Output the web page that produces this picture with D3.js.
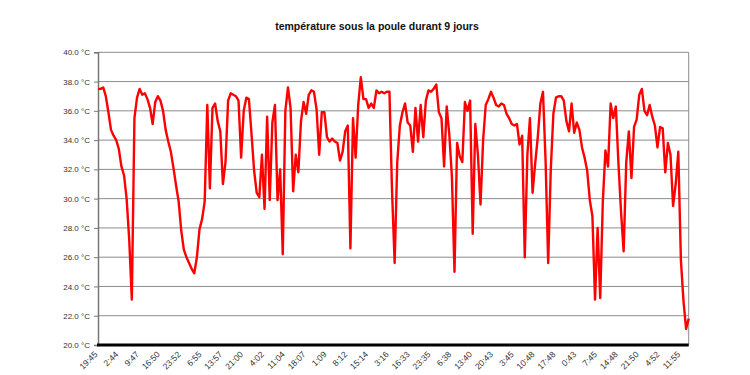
<!DOCTYPE html>
<html>
<head>
  <meta charset="utf-8">
  <title>température sous la poule</title>
  <style>
    body { margin: 0; background: #fff; }
    text { font-family: "Liberation Sans", Arial, sans-serif; }
  </style>
</head>
<body>
  <svg width="750" height="375"></svg>

  <script src="https://cdn.jsdelivr.net/npm/d3@7/dist/d3.min.js"></script>
  <script type="text/javascript">
    // one reading every few minutes, 9 days
    var temps = [
      37.5, 37.5, 37.6, 37.0, 35.9, 34.7, 34.3, 34.0, 33.4, 32.2,
      31.6, 30.0, 27.2, 23.1, 35.5, 36.9, 37.5, 37.1, 37.2, 36.8,
      36.2, 35.1, 36.6, 37.0, 36.7, 36.0, 34.7, 33.9, 33.2, 32.1,
      30.9, 29.8, 27.8, 26.5, 26.0, 25.6, 25.2, 24.9, 26.0, 27.9,
      28.6, 29.8, 36.4, 30.7, 36.2, 36.5, 35.3, 34.6, 31.0, 32.5,
      36.7, 37.2, 37.1, 37.0, 36.7, 32.8, 36.0, 36.9, 36.8, 34.4,
      31.9, 30.4, 30.1, 33.0, 29.3, 35.6, 29.9, 35.2, 36.4, 29.9,
      32.0, 26.2, 36.0, 37.6, 36.2, 30.5, 33.0, 31.8, 35.3, 36.6,
      35.8, 37.1, 37.4, 37.3, 36.1, 33.0, 35.9, 35.9, 34.2, 33.9,
      34.1, 33.9, 33.8, 32.6, 33.2, 34.6, 35.0, 26.6, 35.5, 32.8,
      36.4, 38.3, 36.8, 36.8, 36.2, 36.5, 36.2, 37.4, 37.2, 37.3,
      37.2, 37.3, 37.3, 30.5, 25.6, 32.5, 35.0, 35.9, 36.5, 35.2,
      35.0, 33.2, 36.2, 33.9, 36.4, 34.2, 36.7, 37.4, 37.3, 37.5,
      37.8, 35.9, 35.5, 32.2, 36.3, 34.4, 31.5, 25.0, 33.8, 32.9,
      32.5, 36.6, 36.0, 36.7, 27.6, 35.1, 33.0, 29.6, 34.0, 36.4,
      36.8, 37.3, 36.9, 36.4, 36.3, 36.5, 36.4, 35.8, 35.5, 35.1,
      35.0, 35.1, 33.7, 34.3, 26.0, 33.0, 35.5, 30.4, 32.4, 34.2,
      36.5, 37.3, 32.6, 25.6, 32.0, 35.8, 36.9, 37.0, 37.0, 36.7,
      35.3, 34.6, 36.5, 34.5, 35.2, 34.7, 33.5, 32.8, 31.9, 29.9,
      28.8, 23.1, 28.0, 23.2, 29.8, 33.3, 32.2, 36.5, 35.5, 36.3,
      32.4, 29.1, 26.4, 32.5, 34.6, 31.4, 34.9, 35.4, 37.1, 37.5,
      36.0, 35.7, 36.4, 35.6, 35.0, 33.5, 34.9, 34.8, 31.8, 33.8,
      33.0, 29.5, 31.0, 33.2, 25.8, 23.0, 21.1, 21.8
    ]

    var timeLabels = [
      "19:45", "2:44", "9:47", "16:50", "23:52", "6:55", "13:57", "21:00",
      "4:02", "11:04", "18:07", "1:09", "8:12", "15:14", "3:16", "16:33",
      "23:35", "6:38", "13:40", "20:43", "3:45", "10:48", "17:48", "0:43",
      "7:45", "14:48", "21:50", "4:52", "11:55"
    ]
    var labelStep = 8   // a label every 8 readings

    var yTicks = d3.range(20, 40.01, 2)

    var svg = d3.select("svg"),
      plotL = 98, plotR = 688.7, plotT = 52.3, plotB = 345

    var x = d3.scaleLinear().domain([0, temps.length - 1]).range([plotL, plotR])
    var y = d3.scaleLinear().domain([20, 40]).range([plotB, plotT])

    svg.append("text")
      .attr("x", 377)
      .attr("y", 30)
      .attr("text-anchor", "middle")
      .attr("font-size", "10.5px")
      .attr("font-weight", "bold")
      .attr("fill", "#111")
      .text("température sous la poule durant 9 jours")

    // grid
    svg.selectAll(".grid")
      .data(yTicks).enter()
      .append("line")
      .attr("class", "grid")
      .attr("x1", plotL).attr("x2", plotR)
      .attr("y1", d => y(d)).attr("y2", d => y(d))
      .attr("stroke", "#8c8c8c")
      .attr("stroke-width", 1)

    // right border
    svg.append("line")
      .attr("x1", plotR).attr("x2", plotR)
      .attr("y1", plotT).attr("y2", plotB)
      .attr("stroke", "#8c8c8c")

    // y axis
    var yAxis = svg.append("g")
      .attr("transform", "translate(" + plotL + ",0)")
      .call(d3.axisLeft(y).tickValues(yTicks).tickSize(4).tickPadding(4)
        .tickFormat(d => d.toFixed(1) + " °C"))
    yAxis.select(".domain").attr("stroke", "#777").attr("stroke-width", 1.5)
    yAxis.selectAll(".tick line").attr("stroke", "#777")
    yAxis.selectAll(".tick text")
      .attr("font-family", "Liberation Sans, Arial, sans-serif")
      .attr("font-size", "8px")
      .attr("fill", "#333")

    // x labels
    svg.selectAll(".xlab")
      .data(timeLabels).enter()
      .append("text")
      .attr("class", "xlab")
      .attr("text-anchor", "end")
      .attr("font-size", "8.5px")
      .attr("fill", "#333")
      .attr("transform", (d, i) => "translate(" + x(i * labelStep) + "," + (plotB + 10) + ") rotate(-45)")
      .text(d => d)

    // the data line
    var line = d3.line()
      .x((d, i) => x(i))
      .y(d => y(d))

    svg.append("path")
      .datum(temps)
      .attr("d", line)
      .attr("fill", "none")
      .attr("stroke", "#ff0000")
      .attr("stroke-width", 2.4)
      .attr("stroke-linejoin", "round")

    // bottom axis line
    svg.append("line")
      .attr("x1", plotL - 1).attr("x2", plotR)
      .attr("y1", plotB).attr("y2", plotB)
      .attr("stroke", "#000")
      .attr("stroke-width", 3)
  </script>
</body>
</html>
